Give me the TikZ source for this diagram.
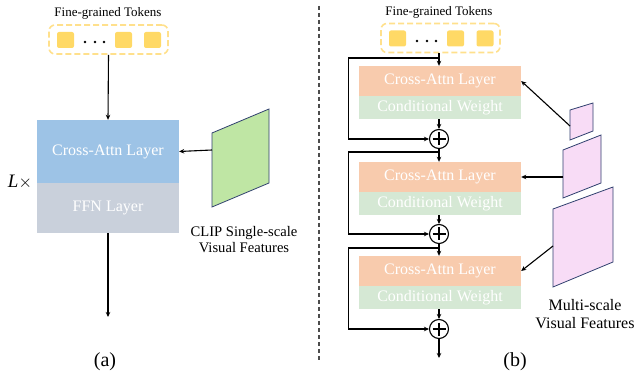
\documentclass[tikz,border=0pt]{standalone}
\usepackage{fontspec}
\setmainfont{Liberation Serif}
\usetikzlibrary{arrows.meta}

\definecolor{attnblue}{HTML}{9DC3E6}
\definecolor{ffngray}{HTML}{C9D0DB}
\definecolor{attnorange}{HTML}{F8CBAD}
\definecolor{condgreen}{HTML}{D5E8D4}
\definecolor{clipgreen}{HTML}{BFE6A4}
\definecolor{featpink}{HTML}{F8DCF6}
\definecolor{featedge}{HTML}{2F3F6E}
\definecolor{tokfill}{HTML}{FFD966}
\definecolor{tokedge}{HTML}{FFE08C}

\tikzset{
    layer/.style={inner sep=0pt, text=white, font=\fontsize{16}{18}\selectfont},
    tokbox/.style={draw=tokedge, line width=1.6pt, dash pattern=on 6pt off 3pt,
        rounded corners=6pt, minimum width=119pt, minimum height=29pt, inner sep=0pt},
    tok/.style={fill=tokfill, rounded corners=2pt, minimum width=17pt, minimum height=16pt, inner sep=0pt},
    feat/.style={draw=featedge, line width=0.8pt},
    arr/.style={line width=1.1pt, -{Stealth[length=5pt,width=4.5pt]}},
    plus/.style={circle, draw, line width=1.1pt, minimum size=19pt, inner sep=0pt,
        path picture={\draw[line width=1.1pt]
            ([xshift=3pt]path picture bounding box.west) -- ([xshift=-3pt]path picture bounding box.east)
            ([yshift=-3pt]path picture bounding box.north) -- ([yshift=3pt]path picture bounding box.south);}},
    caption/.style={font=\fontsize{13}{15}\selectfont},
}

\begin{document}
\begin{tikzpicture}[x=1pt, y=-1pt]
            \useasboundingbox (0,0) rectangle (637,379);

            % (a) single-scale
            \node[caption] (capA) at (108,13) {Fine-grained Tokens};
            \node[tokbox] (tokA) at (108.5,39.5) {};
            \node[tok] (tA1) at (65.5,40) {};
            \node[tok] (tA2) at (123.5,40) {};
            \node[tok] (tA3) at (152.5,40) {};
            \fill (85,42) circle (1.3) (95,42) circle (1.3) (104,42) circle (1.3);

            \node[layer, fill=attnblue, minimum width=142pt, minimum height=63pt] (caA) at (108,151.5) {Cross-Attn Layer};
            \node[layer, fill=ffngray, minimum width=142pt, minimum height=50pt] (ffn) at (108,208) {FFN Layer};
            \node[font=\fontsize{19}{21}\selectfont] (rep) at (20,182) {\textit{L}$\times$};

            \draw[feat, fill=clipgreen] (212,133) -- (269,109) -- (269,183) -- (212,207) -- cycle;
            \coordinate (clipL) at (212,150);
            \node[font=\fontsize{14.6}{16}\selectfont, align=center] (clipLbl) at (244,240) {CLIP Single-scale\\Visual Features};

            \coordinate (outA) at (108,317);
            \draw[arr] (tokA.south) -- (caA.north);
            \draw[arr] (clipL) -- (caA.east);
            \draw[arr] (ffn.south) -- (outA);

            \node[font=\fontsize{20}{22}\selectfont] (subA) at (105,362) {(a)};

            \draw[line width=2pt, color=black!70, dash pattern=on 4pt off 3pt] (319,6) -- (319,362);

            % (b) multi-scale
            \node[caption] (capB) at (439,12) {Fine-grained Tokens};
            \node[tokbox] (tokB) at (440.5,38) {};
            \node[tok] (tB1) at (397.5,38.5) {};
            \node[tok] (tB2) at (455.5,38.5) {};
            \node[tok] (tB3) at (485,38.5) {};
            \fill (417,41) circle (1.3) (427,41) circle (1.3) (436,41) circle (1.3);

            \node[layer, fill=attnorange, minimum width=162pt, minimum height=30pt] (ca1) at (440,81) {Cross-Attn Layer};
            \node[layer, fill=condgreen, minimum width=162pt, minimum height=23pt] (cw1) at (440,107.5) {Conditional Weight};
            \node[plus] (s1) at (439,139) {};

            \node[layer, fill=attnorange, minimum width=162pt, minimum height=30pt] (ca2) at (440,177) {Cross-Attn Layer};
            \node[layer, fill=condgreen, minimum width=162pt, minimum height=23pt] (cw2) at (440,203.5) {Conditional Weight};
            \node[plus] (s2) at (439,234) {};

            \node[layer, fill=attnorange, minimum width=162pt, minimum height=30pt] (ca3) at (440,271) {Cross-Attn Layer};
            \node[layer, fill=condgreen, minimum width=162pt, minimum height=23pt] (cw3) at (440,297.5) {Conditional Weight};
            \node[plus] (s3) at (439,329) {};

            \coordinate (j1) at (439,58);
            \coordinate (j2) at (439,152);
            \coordinate (j3) at (439,248);
            \coordinate (outB) at (439,358);

            \draw[arr] (tokB.south -| s1) -- (ca1.north -| s1);
            \draw[arr] (cw1.south -| s1) -- (s1.north);
            \draw[arr] (j1) -- ++(-90.5,0) |- (s1.west);
            \draw[arr] (s1.south) -- (ca2.north -| s1);
            \draw[arr] (cw2.south -| s2) -- (s2.north);
            \draw[arr] (j2) -- ++(-90.5,0) |- (s2.west);
            \draw[arr] (s2.south) -- (ca3.north -| s2);
            \draw[arr] (cw3.south -| s3) -- (s3.north);
            \draw[arr] (j3) -- ++(-90.5,0) |- (s3.west);
            \draw[arr] (s3.south) -- (outB);

            \draw[feat, fill=featpink] (570,110) -- (593,103) -- (593,131) -- (570,140) -- cycle;
            \draw[feat, fill=featpink] (563,150) -- (601,135) -- (601,183) -- (563,198) -- cycle;
            \draw[feat, fill=featpink] (553,209) -- (613,187) -- (613,262) -- (553,287) -- cycle;
            \coordinate (f1) at (570,126);
            \coordinate (f2) at (563,177);
            \coordinate (f3) at (553,246);

            \draw[arr] (f1) -- (ca1.east);
            \draw[arr] (f2) -- (ca2.east);
            \draw[arr] (f3) -- (ca3.east);

            \node[font=\fontsize{16}{18}\selectfont, align=center] (msLbl) at (585,314) {Multi-scale\\Visual Features};
            \node[font=\fontsize{20}{22}\selectfont] (subB) at (515,362) {(b)};
\end{tikzpicture}
\end{document}
